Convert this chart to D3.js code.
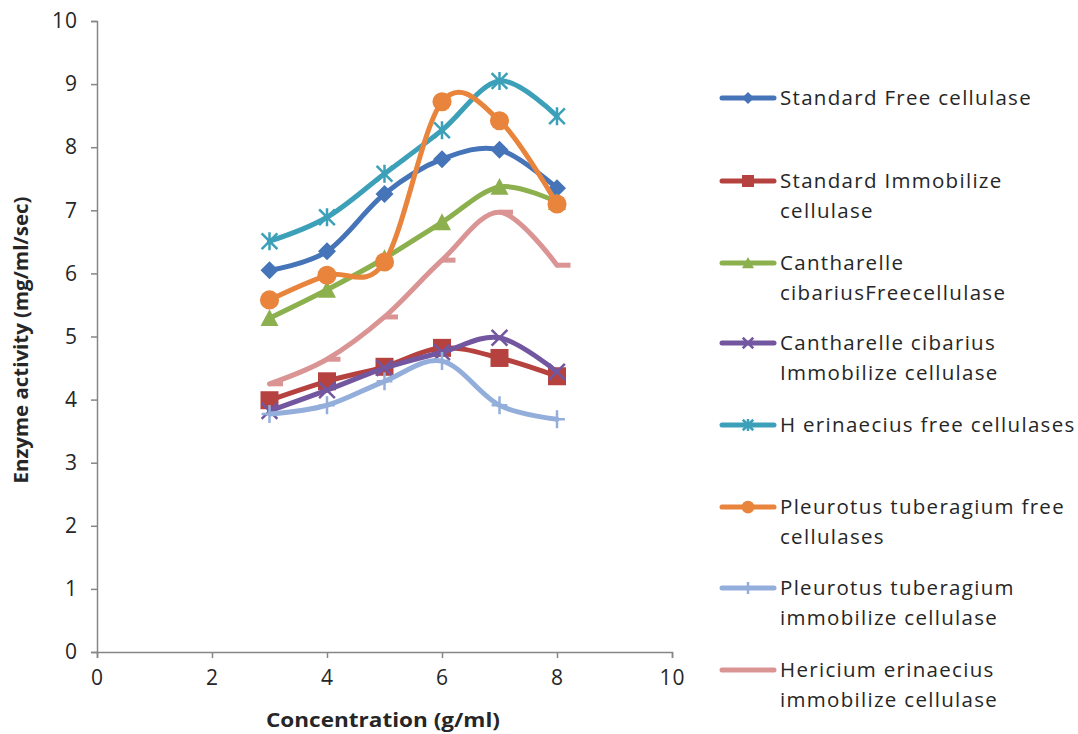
<!DOCTYPE html>
<html>
<head>
<meta charset="utf-8">
<script src="https://cdn.jsdelivr.net/npm/d3@7"></script>
<style>
  html, body { margin: 0; padding: 0; background: #fff; }
  svg { display: block; }
  text { font-family: "Open Sans", "Noto Sans", sans-serif; fill: #262626; }
</style>
</head>
<body>
<svg id="chart" width="1078" height="734"></svg>
<script>
// Enzyme activity versus concentration for eight cellulase preparations
const concentrations = [3, 4, 5, 6, 7, 8];

const standardFree        = [6.05, 6.35, 7.26, 7.81, 7.96, 7.35];
const standardImmob       = [3.99, 4.29, 4.52, 4.82, 4.66, 4.37];
const cantharelleFree     = [5.29, 5.74, 6.24, 6.81, 7.37, 7.13];
const cantharelleImmob    = [3.82, 4.15, 4.50, 4.75, 4.98, 4.44];
const hErinaeciusFree     = [6.51, 6.89, 7.58, 8.27, 9.05, 8.49];
const pleurotusFree       = [5.58, 5.97, 6.18, 8.72, 8.42, 7.10];
const pleurotusImmob      = [3.77, 3.91, 4.29, 4.61, 3.91, 3.69];
const hericiumImmob       = [4.25, 4.64, 5.31, 6.21, 6.97, 6.13];

const seriesNames = [
  ["Standard Free cellulase"],
  ["Standard Immobilize", "cellulase"],
  ["Cantharelle", "cibariusFreecellulase"],
  ["Cantharelle cibarius", "Immobilize cellulase"],
  ["H erinaecius free cellulases"],
  ["Pleurotus tuberagium free", "cellulases"],
  ["Pleurotus tuberagium", "immobilize cellulase"],
  ["Hericium erinaecius", "immobilize cellulase"]
];
const seriesValues = [standardFree, standardImmob, cantharelleFree, cantharelleImmob,
                      hErinaeciusFree, pleurotusFree, pleurotusImmob, hericiumImmob];
const seriesColors = ["#4674B8", "#B5423F", "#8DB04E", "#7257A0",
                      "#3CA0B9", "#E8843C", "#94AEDB", "#DB9494"];
const markerKinds = ["diamond", "square", "triangle", "x", "asterisk", "circle", "plus", "dash"];

const xTicks = [0, 2, 4, 6, 8, 10];
const yTicks = [0, 1, 2, 3, 4, 5, 6, 7, 8, 9, 10];

const svg = d3.select("#chart");
const x = d3.scaleLinear().domain([0, 10]).range([97, 672]);
const y = d3.scaleLinear().domain([0, 10]).range([652, 21]);
const axisColor = "#868686";

// Axes
const gx = svg.append("g").attr("transform", `translate(0,${y(0)})`)
  .call(d3.axisBottom(x).tickValues(xTicks).tickSize(6).tickPadding(11).tickFormat(d3.format("d")));
const gy = svg.append("g").attr("transform", `translate(${x(0)},0)`)
  .call(d3.axisLeft(y).tickValues(yTicks).tickSize(6).tickPadding(13).tickFormat(d3.format("d")));
[gx, gy].forEach(g => {
  g.select(".domain").attr("stroke", axisColor).attr("stroke-width", 1.5);
  g.selectAll(".tick line").attr("stroke", axisColor).attr("stroke-width", 1.5);
  g.selectAll(".tick text").attr("font-family", "'Open Sans', sans-serif")
    .attr("font-size", 21).attr("letter-spacing", 1).attr("fill", "#262626");
});
gx.selectAll(".tick text").attr("dy", "0.75em");

// Axis titles
svg.append("text").attr("x", 383).attr("y", 727).attr("text-anchor", "middle")
  .attr("font-size", 19).attr("font-weight", "bold").attr("font-family", "'Open Sans', sans-serif")
  .attr("textLength", 234).attr("lengthAdjust", "spacingAndGlyphs")
  .text("Concentration (g/ml)");
svg.append("text").attr("transform", "translate(28,340) rotate(-90)").attr("text-anchor", "middle")
  .attr("font-size", 19).attr("font-weight", "bold").attr("font-family", "'Open Sans', sans-serif")
  .attr("textLength", 287).attr("lengthAdjust", "spacingAndGlyphs")
  .text("Enzyme activity (mg/ml/sec)");

// Marker drawing
function drawMarker(g, kind, cx, cy, color, s) {
  const k = s / 8;
  switch (kind) {
    case "diamond":
      g.append("path").attr("d", `M${cx},${cy - 8 * k}L${cx + 8 * k},${cy}L${cx},${cy + 8 * k}L${cx - 8 * k},${cy}Z`).attr("fill", color);
      break;
    case "square":
      g.append("rect").attr("x", cx - 8 * k).attr("y", cy - 8 * k).attr("width", 16 * k).attr("height", 16 * k).attr("fill", color);
      break;
    case "triangle":
      g.append("path").attr("d", `M${cx},${cy - 8 * k}L${cx + 8 * k},${cy + 7 * k}L${cx - 8 * k},${cy + 7 * k}Z`).attr("fill", color);
      break;
    case "circle":
      g.append("circle").attr("cx", cx).attr("cy", cy).attr("r", 8.5 * k).attr("fill", color);
      break;
    case "x":
      g.append("path").attr("d", `M${cx - 7 * k},${cy - 7 * k}L${cx + 7 * k},${cy + 7 * k}M${cx + 7 * k},${cy - 7 * k}L${cx - 7 * k},${cy + 7 * k}`)
        .attr("stroke", color).attr("stroke-width", 2.5);
      break;
    case "asterisk":
      g.append("path").attr("d", `M${cx - 7 * k},${cy - 7 * k}L${cx + 7 * k},${cy + 7 * k}M${cx + 7 * k},${cy - 7 * k}L${cx - 7 * k},${cy + 7 * k}M${cx},${cy - 8 * k}L${cx},${cy + 8 * k}`)
        .attr("stroke", color).attr("stroke-width", 2.5);
      break;
    case "plus":
      g.append("path").attr("d", `M${cx},${cy - 8 * k}L${cx},${cy + 8 * k}M${cx - 7 * k},${cy}L${cx + 7 * k},${cy}`)
        .attr("stroke", color).attr("stroke-width", 2.5);
      break;
    case "dash":
      g.append("path").attr("d", `M${cx},${cy}L${cx + 12 * k},${cy}`)
        .attr("stroke", color).attr("stroke-width", 5);
      break;
  }
}

// Series: smooth line, then its markers
const line = d3.line().x(d => x(d[0])).y(d => y(d[1])).curve(d3.curveCardinal.tension(0));
seriesValues.forEach((vals, i) => {
  const pts = concentrations.map((c, j) => [c, vals[j]]);
  const g = svg.append("g");
  g.append("path").datum(pts).attr("d", line).attr("fill", "none")
    .attr("stroke", seriesColors[i]).attr("stroke-width", 5).attr("stroke-linecap", "round");
  pts.forEach(p => drawMarker(g, markerKinds[i], x(p[0]), y(p[1]), seriesColors[i], 9));
});

// Legend
const legendRows = [98, 181, 263, 343, 425, 507, 588, 670];
seriesNames.forEach((lines, i) => {
  const yy = legendRows[i];
  const g = svg.append("g");
  g.append("line").attr("x1", 722).attr("x2", 774).attr("y1", yy).attr("y2", yy)
    .attr("stroke", seriesColors[i]).attr("stroke-width", 5).attr("stroke-linecap", "round");
  if (markerKinds[i] !== "dash") drawMarker(g, markerKinds[i], 748, yy, seriesColors[i], 6);
  lines.forEach((t, j) => {
    g.append("text").attr("x", 780).attr("y", yy + 7 + j * 30)
      .attr("font-size", 20.5).attr("letter-spacing", 1.3).text(t);
  });
});
</script>
</body>
</html>
